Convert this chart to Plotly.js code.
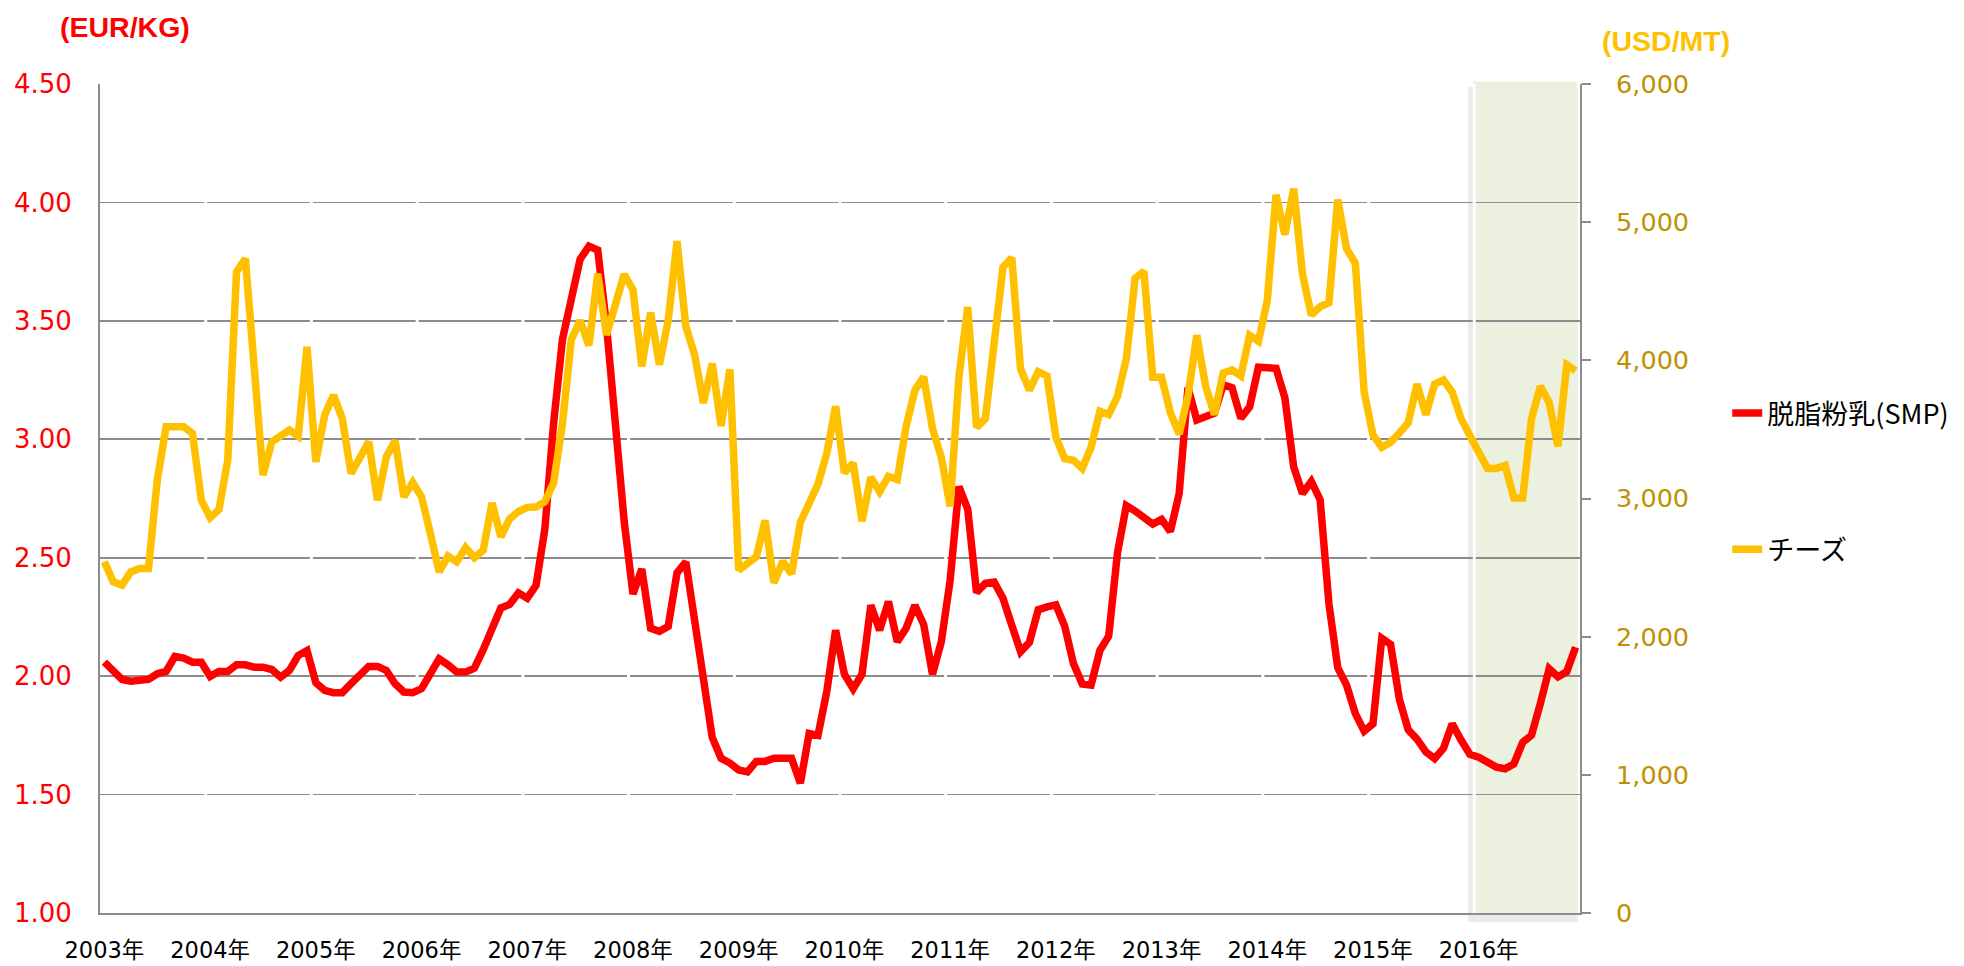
<!DOCTYPE html>
<html>
<head>
<meta charset="utf-8">
<script src="https://cdn.plot.ly/plotly-3.0.1.min.js"></script>
<style>
html,body{margin:0;padding:0;background:#ffffff;}
#chart{width:1964px;height:966px;}
</style>
</head>
<body>
<div id="chart"></div>
<script>
// Year tick labels (one per January)
const yearLabels = ["2003年","2004年","2005年","2006年","2007年","2008年","2009年",
                    "2010年","2011年","2012年","2013年","2014年","2015年","2016年"];
const years = [2003,2004,2005,2006,2007,2008,2009,2010,2011,2012,2013,2014,2015,2016];

// 脱脂粉乳(SMP) EUR/KG, monthly, one row per year
const smpValues = [
  2.059, 2.024, 1.986, 1.979, 1.986, 1.986, 2.010, 2.020, 2.083, 2.076, 2.059, 2.059,
  1.999, 2.020, 2.020, 2.048, 2.048, 2.038, 2.038, 2.028, 1.996, 2.024, 2.087, 2.108,
  1.972, 1.940, 1.930, 1.930, 1.968, 2.010, 2.041, 2.041, 2.024, 1.968, 1.933, 1.930,
  1.947, 2.010, 2.073, 2.048, 2.017, 2.017, 2.034, 2.112, 2.200, 2.288, 2.303, 2.351,
  2.329, 2.383, 2.622, 3.071, 3.423, 3.610, 3.760, 3.815, 3.799, 3.479, 3.026, 2.654,
  2.347, 2.452, 2.202, 2.189, 2.210, 2.436, 2.482, 2.242, 1.992, 1.741, 1.653, 1.633,
  1.604, 1.596, 1.640, 1.640, 1.653, 1.653, 1.653, 1.548, 1.758, 1.750, 1.935, 2.194,
  2.008, 1.947, 2.008, 2.299, 2.194, 2.315, 2.145, 2.202, 2.299, 2.218, 2.008, 2.145,
  2.404, 2.800, 2.705, 2.353, 2.392, 2.397, 2.329, 2.215, 2.103, 2.143, 2.280, 2.292,
  2.301, 2.212, 2.053, 1.967, 1.962, 2.108, 2.169, 2.521, 2.720, 2.697, 2.671, 2.642,
  2.662, 2.611, 2.771, 3.218, 3.081, 3.093, 3.110, 3.230, 3.218, 3.089, 3.137, 3.304,
  3.304, 3.300, 3.175, 2.883, 2.771, 2.822, 2.745, 2.306, 2.036, 1.962, 1.842, 1.768,
  1.799, 2.160, 2.134, 1.902, 1.773, 1.734, 1.680, 1.652, 1.695, 1.799, 1.730, 1.670,
  1.658, 1.635, 1.616, 1.609, 1.630, 1.721, 1.751, 1.885, 2.031, 1.997, 2.019, 2.122
];

// チーズ USD/MT, monthly, one row per year
const cheeseValues = [
  2542, 2397, 2373, 2469, 2493, 2493, 3133, 3519, 3519, 3519, 3470, 2988,
  2862, 2920, 3277, 4640, 4737, 3965, 3169, 3410, 3458, 3495, 3451, 4098,
  3265, 3603, 3748, 3579, 3181, 3290, 3410, 2988, 3302, 3417, 3012, 3116,
  3012, 2747, 2469, 2583, 2542, 2645, 2571, 2626, 2968, 2723, 2852, 2906,
  2936, 2939, 2977, 3115, 3545, 4150, 4288, 4108, 4627, 4184, 4392, 4622,
  4511, 3957, 4345, 3968, 4289, 4862, 4245, 4040, 3691, 3977, 3525, 3935,
  2481, 2528, 2578, 2841, 2390, 2545, 2454, 2828, 2974, 3104, 3326, 3667,
  3187, 3256, 2836, 3154, 3049, 3160, 3138, 3520, 3783, 3880, 3506, 3298,
  2944, 3880, 4386, 3515, 3578, 4167, 4674, 4742, 3937, 3784, 3917, 3887,
  3445, 3289, 3277, 3218, 3371, 3631, 3607, 3740, 4010, 4594, 4644, 3878,
  3878, 3622, 3466, 3740, 4182, 3813, 3607, 3908, 3931, 3887, 4182, 4138,
  4432, 5198, 4910, 5242, 4624, 4329, 4388, 4417, 5163, 4809, 4703, 3769,
  3460, 3371, 3407, 3474, 3548, 3828, 3607, 3828, 3858, 3769, 3578, 3454,
  3336, 3218, 3218, 3239, 3003, 3003, 3578, 3813, 3695, 3377, 3967, 3925
];

const seriesNames = ["脱脂粉乳(SMP)", "チーズ"];
const highlightYear = 2016;

// monthly category labels
const months = [];
years.forEach(y => { for (let m = 1; m <= 12; m++) months.push(y + "-" + (m < 10 ? "0" + m : m)); });
const janTicks = years.map(y => y + "-01");

const fontFam = "DejaVu Sans, Noto Sans CJK JP, sans-serif";
const gridGray = "#8c8c8c";

const traces = [
  {x: months, y: smpValues, name: seriesNames[0], type: "scatter", mode: "lines",
   line: {color: "#FF0000", width: 7.5}, yaxis: "y", legendgroup: "a", hoverinfo: "skip"},
  {x: months, y: cheeseValues, name: seriesNames[1], type: "scatter", mode: "lines",
   line: {color: "#FFC000", width: 7.5}, yaxis: "y2", legendgroup: "b", hoverinfo: "skip"}
];

// decorative shapes: shaded 2016 band and white year separators
const hlStart = months.indexOf(highlightYear + "-01") - 0.5;
const lastIdx = months.length - 0.5;
const shapes = [
  {type: "rect", xref: "x", yref: "paper", x0: hlStart - 0.7, x1: lastIdx - 0.25, y0: -0.011, y1: 0.996,
   fillcolor: "rgba(0,0,0,0.08)", line: {width: 0}, layer: "below"},
  {type: "rect", xref: "x", yref: "paper", x0: hlStart - 0.15, x1: lastIdx - 0.35, y0: -0.003, y1: 1.003,
   fillcolor: "#EBF1DE", line: {width: 0}, layer: "below"}
];
for (let k = 1; k < years.length; k++) {
  const xb = k * 12 - 0.5;
  shapes.push({type: "line", xref: "x", yref: "y", x0: xb, x1: xb, y0: 1.0, y1: 4.5,
               line: {color: "#ffffff", width: 3}, layer: "between"});
}

const layout = {
  width: 1964, height: 966,
  margin: {l: 100, r: 384, t: 84, b: 53, pad: 0, autoexpand: false},
  paper_bgcolor: "#ffffff", plot_bgcolor: "rgba(0,0,0,0)",
  showlegend: true,
  legend: {x: 1.0995, y: 0.632, xanchor: "left", yanchor: "top",
           font: {family: "Noto Sans CJK JP, sans-serif", size: 27, color: "#000000"},
           traceorder: "grouped", tracegroupgap: 98, bgcolor: "rgba(0,0,0,0)", borderwidth: 0},
  xaxis: {type: "category", range: [-0.5, months.length - 0.5],
          tickmode: "array", tickvals: janTicks, ticktext: yearLabels,
          showgrid: false, zeroline: false, ticks: "",
          showline: true, linecolor: gridGray, linewidth: 2,
          tickfont: {family: fontFam, size: 22.5, color: "#000000"},
          ticklabelstandoff: 16, tickangle: 0, fixedrange: true},
  yaxis: {range: [1.0, 4.5], tickvals: [1.0,1.5,2.0,2.5,3.0,3.5,4.0,4.5], tickformat: ".2f",
          showgrid: true, gridcolor: gridGray, gridwidth: 1.6, zeroline: false,
          showline: true, linecolor: gridGray, linewidth: 2, ticks: "",
          tickfont: {family: fontFam, size: 26, color: "#FF0000"}, ticklabelstandoff: 21, fixedrange: true},
  yaxis2: {range: [0, 6000], tickvals: [0,1000,2000,3000,4000,5000,6000], tickformat: ",d",
           overlaying: "y", side: "right", showgrid: false, zeroline: false,
           showline: true, linecolor: gridGray, linewidth: 2,
           ticks: "outside", ticklen: 9, tickwidth: 2, tickcolor: gridGray,
           tickfont: {family: fontFam, size: 25.5, color: "#BF9000"}, ticklabelstandoff: 20, fixedrange: true},
  shapes: shapes,
  annotations: [
    {text: "<b>(EUR/KG)</b>", xref: "paper", yref: "paper", x: 0.0169, y: 1.0682,
     xanchor: "center", yanchor: "middle", showarrow: false,
     font: {family: "Liberation Sans, Arial, sans-serif", size: 28.5, color: "#FF0000"}},
    {text: "<b>(USD/MT)</b>", xref: "paper", yref: "paper", x: 1.058, y: 1.0519,
     xanchor: "center", yanchor: "middle", showarrow: false,
     font: {family: "Liberation Sans, Arial, sans-serif", size: 28.5, color: "#FFC000"}}
  ]
};

Plotly.newPlot("chart", traces, layout, {displayModeBar: false, staticPlot: true});
</script>
</body>
</html>
